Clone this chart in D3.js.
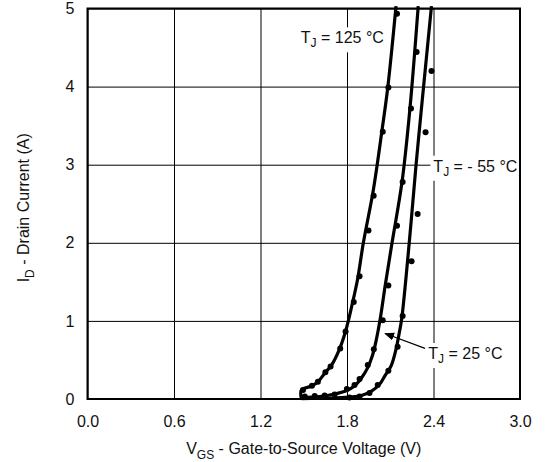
<!DOCTYPE html>
<html>
<head>
<meta charset="utf-8">
<script src="https://cdn.jsdelivr.net/npm/d3@7"></script>
<style>
  body { margin: 0; background: #fff; }
  svg text { font-family: "Liberation Sans", Arial, Helvetica, sans-serif; fill: #111; }
</style>
</head>
<body>
<div id="chart"></div>
<script>
// axis ticks
var xTicks = [0.0, 0.6, 1.2, 1.8, 2.4, 3.0];
var yTicks = [0, 1, 2, 3, 4, 5];

// fitted curves  [VGS, ID]
var line125 = [[1.484,0],[1.484,0.115],[1.555,0.166],[1.596,0.217],[1.652,0.344],[1.693,0.434],
  [1.748,0.638],[1.790,0.867],[1.831,1.173],[1.873,1.531],[1.914,2.006],[1.983,2.679],
  [2.045,3.469],[2.083,3.992],[2.140,5.03]];
var line25 = [[1.486,0.019],[1.610,0.032],[1.714,0.064],[1.795,0.106],[1.852,0.166],[1.900,0.268],
  [1.942,0.395],[1.977,0.561],[2.004,0.765],[2.030,1.020],[2.066,1.467],[2.113,2.006],
  [2.182,2.784],[2.237,3.728],[2.294,5.03]];
var lineM55 = [[1.486,0.006],[1.679,0.013],[1.817,0.026],[1.900,0.045],[1.970,0.102],[2.025,0.185],
  [2.066,0.306],[2.106,0.425],[2.140,0.638],[2.163,0.851],[2.179,1.020],[2.232,2.006],
  [2.279,2.997],[2.322,3.827],[2.386,5.03]];

// measured points  [VGS, ID]
var dots125 = [[1.495,0.115],[1.557,0.170],[1.598,0.221],[1.650,0.341],[1.686,0.417],[1.753,0.647],
  [1.790,0.864],[1.847,1.241],[1.887,1.573],[1.949,2.156],[1.985,2.602],[2.048,3.422],
  [2.087,3.989],[2.147,4.932]];
var dots25 = [[1.507,0.032],[1.576,0.038],[1.645,0.045],[1.714,0.057],[1.799,0.128],[1.852,0.179],
  [1.887,0.255],[1.944,0.434],[1.986,0.638],[2.048,1.008],[2.087,1.454],[2.147,2.219],
  [2.186,2.777],[2.244,3.718],[2.283,4.443]];
var dotsM55 = [[1.817,0.019],[1.887,0.032],[1.956,0.077],[2.013,0.179],[2.087,0.361],[2.151,0.670],
  [2.186,1.063],[2.248,1.764],[2.290,2.369],[2.345,3.415],[2.386,4.200]];

// labels  [VGS, ID] of text start / baseline
var labels = [
  { temp: "125 °C", pos: [1.479, 4.554] },
  { temp: "- 55 °C", pos: [2.399, 2.910] },
  { temp: "25 °C", pos: [2.364, 0.512] }
];
var arrow25 = [[2.341, 0.649], [2.064, 0.839]];

var W = 545, H = 462;
var margin = { top: 8.5, right: 25, bottom: 63, left: 87.5 };
var width = W - margin.left - margin.right,
  height = H - margin.top - margin.bottom;

var svg = d3.select("#chart").append("svg")
  .attr("width", W).attr("height", H);

svg.append("defs").append("marker")
  .attr("id", "arr")
  .attr("viewBox", "0 0 10 10")
  .attr("refX", 9).attr("refY", 5)
  .attr("markerWidth", 10).attr("markerHeight", 10)
  .attr("markerUnits", "userSpaceOnUse")
  .attr("orient", "auto")
  .append("path").attr("d", "M0,1 L10,5 L0,9 Z").attr("fill", "#000");

var g = svg.append("g")
  .attr("transform", "translate(" + margin.left + "," + margin.top + ")");

var x = d3.scaleLinear().domain([0, 3]).range([0, width]);
var y = d3.scaleLinear().domain([0, 5]).range([height, 0]);

// grid + tick labels
var xAxis = g.append("g")
  .attr("transform", "translate(0," + height + ")")
  .call(d3.axisBottom(x).tickValues(xTicks).tickFormat(d3.format(".1f"))
    .tickSize(-height).tickPadding(17));
var yAxis = g.append("g")
  .call(d3.axisLeft(y).tickValues(yTicks).tickFormat(d3.format("d"))
    .tickSize(-width).tickPadding(13));

[xAxis, yAxis].forEach(function (a) {
  a.select(".domain").remove();
  a.selectAll("line").attr("stroke", "#000").attr("stroke-width", 1);
  a.selectAll("text").style("font-size", "16px").attr("fill", "#111")
    .style("font-family", "'Liberation Sans', Arial, sans-serif");
});

// labels with white boxes
labels.forEach(function (d) {
  var t = g.append("text")
    .attr("x", x(d.pos[0]))
    .attr("y", y(d.pos[1]))
    .style("font-size", "16px");
  t.append("tspan").text("T");
  t.append("tspan").attr("dy", 4).style("font-size", "12px").text("J");
  t.append("tspan").attr("dy", -4).text(" = " + d.temp);
  var bb = t.node().getBBox();
  g.insert("rect", function () { return t.node(); })
    .attr("x", bb.x - 3).attr("y", bb.y - 2)
    .attr("width", bb.width + 5).attr("height", bb.height + 4)
    .attr("fill", "#fff");
});

g.append("line")
  .attr("x1", x(arrow25[0][0])).attr("y1", y(arrow25[0][1]))
  .attr("x2", x(arrow25[1][0])).attr("y2", y(arrow25[1][1]))
  .attr("stroke", "#000").attr("stroke-width", 1.2)
  .attr("marker-end", "url(#arr)");

// curves
var line = d3.line()
  .x(function (d) { return x(d[0]); })
  .y(function (d) { return y(d[1]); })
  .curve(d3.curveCatmullRom.alpha(0.5));

[line125, line25, lineM55].forEach(function (c) {
  g.append("path").datum(c)
    .attr("d", line)
    .attr("fill", "none")
    .attr("stroke", "#000")
    .attr("stroke-width", 3.2)
    .attr("stroke-linejoin", "round");
});

[dots125, dots25, dotsM55].forEach(function (s) {
  g.selectAll(null).data(s).enter().append("circle")
    .attr("cx", function (d) { return x(d[0]); })
    .attr("cy", function (d) { return y(d[1]); })
    .attr("r", 3)
    .attr("fill", "#000");
});

// frame
g.append("rect")
  .attr("x", 0).attr("y", 0)
  .attr("width", width).attr("height", height)
  .attr("fill", "none").attr("stroke", "#000").attr("stroke-width", 2);

// axis titles
var xt = svg.append("text")
  .attr("x", margin.left + width / 2)
  .attr("y", 454)
  .attr("text-anchor", "middle")
  .style("font-size", "16px");
xt.append("tspan").text("V");
xt.append("tspan").attr("dy", 5).style("font-size", "12px").text("GS");
xt.append("tspan").attr("dy", -5).text(" - Gate-to-Source Voltage (V)");

var yt = svg.append("text")
  .attr("transform", "translate(29," + (margin.top + height / 2 + 4) + ") rotate(-90)")
  .attr("text-anchor", "middle")
  .style("font-size", "16px");
yt.append("tspan").text("I");
yt.append("tspan").attr("dy", 5).style("font-size", "12px").text("D");
yt.append("tspan").attr("dy", -5).text(" - Drain Current  (A)");
</script>
</body>
</html>
